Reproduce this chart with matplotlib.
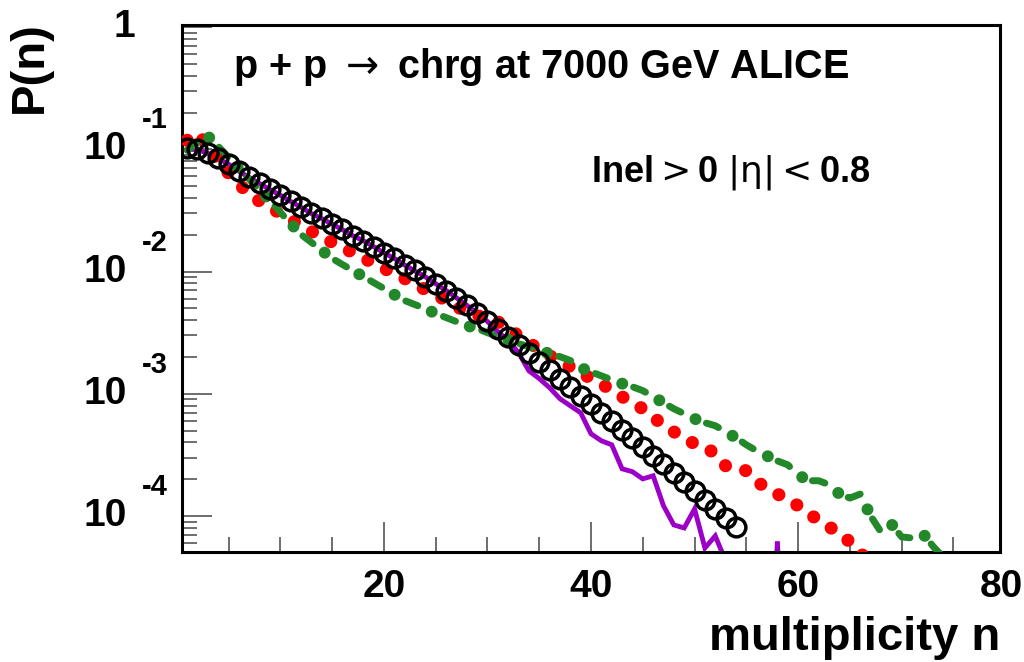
import matplotlib
matplotlib.use("Agg")
import matplotlib.pyplot as plt
from matplotlib import transforms
from matplotlib.ticker import MultipleLocator, LogLocator, NullFormatter

plt.rcParams['font.family'] = ['Liberation Sans', 'DejaVu Sans']

# ALICE data (open circles), n = 1..54
n_data = list(range(1, 55))
p_data = [0.102, 0.100, 0.0927, 0.0844, 0.0753, 0.0660, 0.0590, 0.0526, 0.0470, 0.0420,
          0.0375, 0.0335, 0.0299, 0.0272, 0.0243, 0.0221, 0.0197, 0.0179, 0.0160, 0.0143,
          0.0128, 0.0114, 0.0102, 0.00910, 0.00797, 0.00699, 0.00612, 0.00536, 0.00461, 0.00397,
          0.00341, 0.00293, 0.00252, 0.00217, 0.00183, 0.00157, 0.00133, 0.00114, 9.63e-4, 8.28e-4,
          6.99e-4, 6.01e-4, 5.07e-4, 4.36e-4, 3.68e-4, 3.10e-4, 2.67e-4, 2.25e-4, 1.90e-4, 1.60e-4,
          1.35e-4, 1.14e-4, 9.63e-5, 8.13e-5]

# purple model (solid line), n = 1..60
n_purple = list(range(1, 61))
p_purple = [0.100, 0.0995, 0.0925, 0.0840, 0.0755, 0.0662, 0.0588, 0.0525, 0.0468, 0.0421,
            0.0374, 0.0336, 0.0298, 0.0271, 0.0244, 0.0220, 0.0196, 0.0179, 0.0160, 0.0142,
            0.0128, 0.0113, 0.0101, 0.00905, 0.00795, 0.00700, 0.00610, 0.00530, 0.00455, 0.00390,
            0.00322, 0.00272, 0.00217, 0.00154, 0.00133, 0.00112, 9.10e-4, 7.97e-4, 6.99e-4, 4.70e-4,
            4.12e-4, 3.82e-4, 2.43e-4, 2.30e-4, 2.01e-4, 2.13e-4, 1.21e-4, 8.44e-5, 7.97e-5, 1.14e-4,
            5.47e-5, 6.86e-5, 4.28e-5, 2.5e-5, 1.5e-5, 1e-6, 1e-6, 6.2e-5, 1e-6, 1e-6]

# red model (dotted), n = 1..67
n_red = list(range(1, 68))
p_red = [0.1185, 0.1352, 0.1058, 0.0828, 0.0636, 0.0516, 0.0436, 0.0375, 0.0335, 0.0299,
         0.0267, 0.0238, 0.0213, 0.0194, 0.0173, 0.0157, 0.0143, 0.0130, 0.0116, 0.0106,
         0.00963, 0.00876, 0.00782, 0.00712, 0.00648, 0.00579, 0.00516, 0.00470, 0.00436, 0.00412,
         0.00389, 0.00341, 0.00299, 0.00262, 0.00230, 0.00205, 0.00183, 0.00166, 0.00149, 0.00133,
         0.00121, 0.00106, 9.45e-4, 8.44e-4, 7.53e-4, 6.48e-4, 5.47e-4, 4.88e-4, 4.36e-4, 3.89e-4,
         3.68e-4, 3.22e-4, 2.57e-4, 2.47e-4, 2.34e-4, 1.90e-4, 1.70e-4, 1.51e-4, 1.38e-4, 1.21e-4,
         1.04e-4, 9.27e-5, 8.13e-5, 7.26e-5, 6.12e-5, 4.97e-5, 4.12e-5]

# green model (dash-dot), n = 1..75
n_green = list(range(1, 76))
p_green = [0.0981, 0.1141, 0.1278, 0.1058, 0.0860, 0.0699, 0.0568, 0.0461, 0.0382, 0.0305,
           0.0247, 0.0201, 0.0173, 0.0149, 0.0128, 0.0114, 0.0102, 0.00910, 0.00813, 0.00726,
           0.00648, 0.00579, 0.00536, 0.00497, 0.00453, 0.00420, 0.00389, 0.00361, 0.00341, 0.00316,
           0.00293, 0.00277, 0.00257, 0.00243, 0.00225, 0.00213, 0.00201, 0.00187, 0.00163, 0.00151,
           0.00140, 0.00130, 0.00121, 0.00114, 0.00106, 9.45e-4, 8.44e-4, 7.53e-4, 6.86e-4, 6.24e-4,
           5.79e-4, 5.47e-4, 4.88e-4, 4.36e-4, 3.82e-4, 3.41e-4, 3.10e-4, 2.82e-4, 2.62e-4, 2.17e-4,
           1.94e-4, 1.94e-4, 1.80e-4, 1.51e-4, 1.40e-4, 1.51e-4, 1.00e-4, 7.39e-5, 8.60e-5, 6.73e-5,
           6.60e-5, 7.26e-5, 5.68e-5, 4.61e-5, 3.54e-5]

fig = plt.figure(figsize=(10.24, 6.62), dpi=100)
ax = fig.add_axes([0.1777, 0.1662, 0.7989, 0.7960])
ax.set_yscale('log')

purple = '#9c00c8'
green = '#23882a'

ax.plot(n_purple, p_purple, color=purple, lw=3.5, solid_joinstyle='miter', zorder=2)
ax.plot(n_red, p_red, color='#ff0000', lw=9.4, linestyle=(0, (0.01, 1.58)),
        dash_capstyle='round', zorder=3)
ax.plot(n_green, p_green, color=green, lw=5.0, linestyle=(0, (1.86, 4.0)),
        dash_capstyle='round', zorder=3)
ax.plot(n_green, p_green, color=green, lw=8.6, linestyle=(1.17, (0.01, 3.41)),
        dash_capstyle='round', zorder=3)
ax.plot(n_data, p_data, linestyle='none', marker='o', ms=13.5, mfc='none',
        mec='black', mew=2.5, zorder=4)

ax.set_xlim(0.5, 79.5)
ax.set_ylim(5.07e-5, 1.04)

for s in ax.spines.values():
    s.set_linewidth(2.2)

ax.xaxis.set_major_locator(MultipleLocator(20))
ax.xaxis.set_minor_locator(MultipleLocator(5))
ax.yaxis.set_major_locator(LogLocator(base=10, numticks=20))
ax.yaxis.set_minor_locator(LogLocator(base=10, subs=[2, 3, 4, 5, 6, 7, 8, 9], numticks=20))
ax.yaxis.set_major_formatter(NullFormatter())
ax.yaxis.set_minor_formatter(NullFormatter())
ax.tick_params(which='both', direction='in', top=False, right=False, color='#555555', width=1.2)
ax.tick_params(which='major', length=21.5)
ax.tick_params(which='minor', length=10.8)
ax.tick_params(axis='x', which='major', labelsize=28, pad=12)
for lab in ax.get_xticklabels():
    lab.set_fontweight('bold')

# "80" sits just past the last bin edge
xtrans = transforms.blended_transform_factory(ax.transData, ax.transAxes)
ax.text(79.6, -0.032, "80", transform=xtrans, ha='center', va='top', fontsize=28,
        fontweight='bold', clip_on=False)

# ROOT style decade labels on the y axis
ytrans = transforms.blended_transform_factory(ax.transAxes, ax.transData)
ax.text(-0.0575, 1.0, "1", transform=ytrans, ha='right', va='center', fontsize=28, fontweight='bold')
for k in [-1, -2, -3, -4]:
    ax.text(-0.0672, 10.0 ** k, "10", transform=ytrans, ha='right', va='center',
            fontsize=28, fontweight='bold')
    etr = transforms.offset_copy(ytrans, fig=fig, x=0, y=29, units='dots')
    ax.text(-0.0489, 10.0 ** k, str(k), transform=etr, ha='left', va='center',
            fontsize=21, fontweight='bold')

fig.text(233 / 1024, 1 - 78 / 662, r"p + p $\rightarrow$ chrg at 7000 GeV ALICE",
         ha='left', va='baseline', fontsize=28.5, fontweight='bold')
fig.text(591 / 1024, 1 - 181 / 662, r"Inel$>$0 $|\mathrm{\eta}|<$0.8",
         ha='left', va='baseline', fontsize=26, fontweight='bold')

fig.text(30 / 1024, 1 - 67 / 662, "P(n)", rotation=90, ha='center', va='center',
         fontsize=34, fontweight='bold')
fig.text(1000 / 1024, 1 - 638 / 662, "multiplicity n", ha='right', va='center',
         fontsize=34, fontweight='bold')

fig.savefig("out.png", dpi=100)
